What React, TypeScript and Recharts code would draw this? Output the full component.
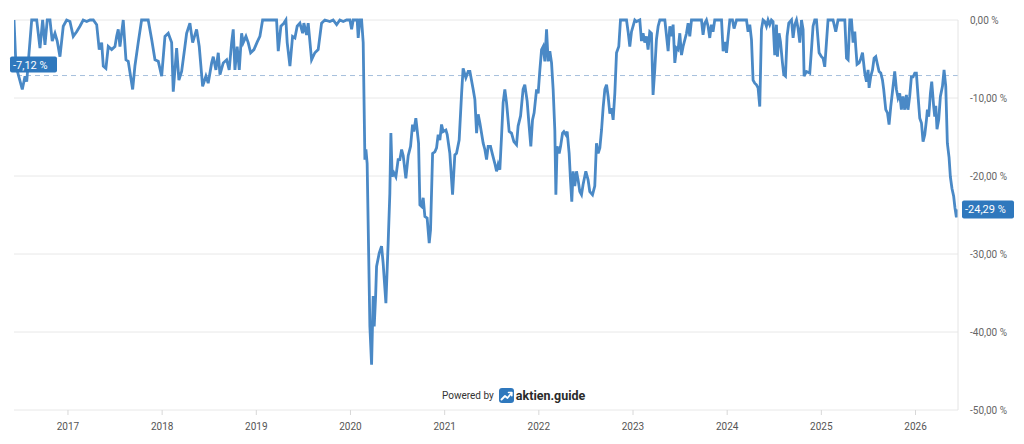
import React from 'react';
import { LineChart, Line, XAxis, YAxis, CartesianGrid, ReferenceLine } from 'recharts';

// [decimal year, drawdown %]
const d2016: [number, number][] = [[2016.427,0],[2016.448,-5.9],[2016.515,-8.9],[2016.544,-7.2],[2016.562,-7.9],[2016.615,0],[2016.668,0],[2016.703,-3.6],[2016.731,0],[2016.756,-3.2],[2016.780,0],[2016.809,0],[2016.833,-2.7],[2016.862,-1.7],[2016.886,-2.7],[2016.915,-4.7],[2016.950,-0.8],[2016.986,0]];
const d2017: [number, number][] = [[2017.021,-0.2],[2017.056,-2.1],[2017.092,-1.5],[2017.127,-0.8],[2017.162,0],[2017.199,-0.2],[2017.234,0],[2017.269,0],[2017.305,-0.6],[2017.332,-3.8],[2017.358,-2.9],[2017.375,-5.9],[2017.403,-6.2],[2017.428,-3.4],[2017.464,-3.8],[2017.499,-3.4],[2017.517,-2.1],[2017.534,-1.2],[2017.552,-3.4],[2017.587,0],[2017.616,-5.1],[2017.640,-5.3],[2017.687,-8.9],[2017.711,-5.9],[2017.746,-2.9],[2017.782,0],[2017.852,0],[2017.889,-2.5],[2017.924,-5.1],[2017.959,-5.3],[2017.995,-7.2]];
const d2018: [number, number][] = [[2018.030,-2.1],[2018.065,-1.7],[2018.101,-2.9],[2018.118,-9.2],[2018.154,-3.6],[2018.178,-7.7],[2018.207,-6.6],[2018.242,-3.4],[2018.260,-1.7],[2018.295,-0.4],[2018.324,-2.9],[2018.366,-1.2],[2018.394,-3.4],[2018.430,-8.5],[2018.465,-7.2],[2018.489,-8.1],[2018.526,-5.5],[2018.543,-4.7],[2018.571,-6.4],[2018.596,-4.2],[2018.614,-7.0],[2018.649,-5.5],[2018.685,-5.1],[2018.712,-6.4],[2018.738,-2.9],[2018.755,-1.2],[2018.773,-6.4],[2018.797,-3.4],[2018.819,-6.4],[2018.844,-1.7],[2018.861,-2.9],[2018.890,-2.1],[2018.914,-2.9],[2018.940,-4.2],[2018.975,-3.8]];
const d2019: [number, number][] = [[2019.010,-2.8],[2019.038,-2.1],[2019.067,0],[2019.215,0],[2019.233,-4.0],[2019.261,-0.8],[2019.293,-0.4],[2019.314,0],[2019.328,-2.9],[2019.357,-5.9],[2019.385,-2.1],[2019.410,-2.3],[2019.434,-0.8],[2019.463,-0.4],[2019.492,-1.7],[2019.505,-0.4],[2019.534,-1.9],[2019.551,-0.4],[2019.587,-5.1],[2019.622,-4.2],[2019.657,-3.8],[2019.693,-0.4],[2019.728,0],[2019.781,-0.2],[2019.816,0],[2019.853,-0.6],[2019.887,0],[2019.923,-0.2],[2019.959,0],[2019.994,0]];
const d2020: [number, number][] = [[2020.012,-1.2],[2020.029,0],[2020.071,0],[2020.082,-2.3],[2020.100,0],[2020.118,0],[2020.135,-2.9],[2020.153,-17.9],[2020.164,-16.6],[2020.177,-18.4],[2020.206,-39.3],[2020.224,-44.2],[2020.241,-35.4],[2020.252,-39.3],[2020.267,-35.4],[2020.277,-31.6],[2020.305,-29.9],[2020.330,-29.0],[2020.347,-31.2],[2020.376,-36.3],[2020.400,-28.6],[2020.418,-22.2],[2020.429,-14.5],[2020.443,-20.1],[2020.461,-19.6],[2020.482,-20.1],[2020.506,-17.9],[2020.524,-17.9],[2020.543,-16.6],[2020.560,-17.4],[2020.588,-20.3],[2020.613,-17.4],[2020.638,-16.2],[2020.659,-13.4],[2020.673,-14.3],[2020.694,-12.6],[2020.708,-14.1],[2020.723,-15.8],[2020.737,-23.7],[2020.755,-23.9],[2020.772,-22.8],[2020.790,-25.2],[2020.814,-25.4],[2020.836,-28.6],[2020.850,-26.9],[2020.872,-17.1],[2020.896,-16.9],[2020.914,-16.4],[2020.931,-14.7],[2020.949,-15.4],[2020.967,-13.4],[2020.984,-14.3]];
const d2021: [number, number][] = [[2021.013,-14.1],[2021.027,-14.7],[2021.055,-17.1],[2021.084,-22.4],[2021.108,-17.3],[2021.126,-17.1],[2021.154,-15.4],[2021.180,-9.4],[2021.196,-6.2],[2021.225,-7.4],[2021.250,-6.6],[2021.268,-6.6],[2021.303,-8.9],[2021.321,-10.2],[2021.339,-14.5],[2021.356,-12.1],[2021.374,-13.2],[2021.409,-15.8],[2021.427,-16.6],[2021.445,-17.9],[2021.462,-16.2],[2021.487,-16.2],[2021.509,-17.3],[2021.533,-18.4],[2021.551,-19.4],[2021.568,-18.5],[2021.586,-19.2],[2021.604,-14.9],[2021.621,-10.6],[2021.639,-8.9],[2021.657,-10.6],[2021.685,-14.3],[2021.710,-14.5],[2021.735,-15.6],[2021.763,-16.0],[2021.780,-13.6],[2021.806,-12.3],[2021.833,-8.9],[2021.851,-8.3],[2021.876,-10.4],[2021.897,-13.6],[2021.915,-16.2],[2021.933,-12.8],[2021.950,-11.9],[2021.976,-8.9],[2021.993,-9.4]];
const d2022: [number, number][] = [[2022.011,-6.4],[2022.029,-3.8],[2022.046,-3.4],[2022.064,-5.3],[2022.082,-1.2],[2022.099,-5.3],[2022.117,-4.0],[2022.135,-5.5],[2022.152,-8.9],[2022.170,-14.2],[2022.181,-22.4],[2022.194,-16.2],[2022.216,-17.1],[2022.231,-16.2],[2022.252,-14.5],[2022.266,-14.3],[2022.287,-14.7],[2022.301,-14.3],[2022.322,-17.1],[2022.337,-20.7],[2022.350,-23.3],[2022.364,-19.4],[2022.382,-21.3],[2022.400,-19.4],[2022.417,-20.5],[2022.435,-22.0],[2022.453,-22.4],[2022.470,-21.1],[2022.499,-19.4],[2022.523,-20.5],[2022.541,-22.0],[2022.570,-22.4],[2022.594,-21.3],[2022.612,-15.8],[2022.630,-17.1],[2022.648,-16.4],[2022.666,-14.1],[2022.683,-11.2],[2022.701,-8.9],[2022.719,-8.3],[2022.736,-9.8],[2022.754,-12.0],[2022.772,-11.3],[2022.789,-12.8],[2022.807,-9.4],[2022.825,-4.2],[2022.849,-3.4],[2022.867,0],[2022.931,0],[2022.948,-1.5],[2022.966,-3.4],[2022.984,-1.5]];
const d2023: [number, number][] = [[2023.019,0],[2023.037,-0.2],[2023.072,0],[2023.090,-2.7],[2023.107,-1.7],[2023.125,-2.9],[2023.143,-2.1],[2023.160,-3.8],[2023.178,-1.5],[2023.196,-1.7],[2023.213,-9.6],[2023.231,-6.4],[2023.249,-2.5],[2023.267,-0.8],[2023.285,0],[2023.338,0],[2023.373,-4.0],[2023.391,-0.8],[2023.409,-2.1],[2023.426,-0.6],[2023.444,-5.5],[2023.462,-3.6],[2023.479,-3.8],[2023.497,-1.7],[2023.515,-4.5],[2023.532,-3.4],[2023.568,-1.7],[2023.585,-0.4],[2023.603,-2.1],[2023.621,0],[2023.727,0],[2023.744,-1.9],[2023.762,-0.4],[2023.780,0],[2023.797,-0.8],[2023.815,-2.3],[2023.833,-0.6],[2023.850,-1.5],[2023.868,0],[2023.940,0],[2023.957,-4.0],[2023.975,-2.8],[2023.993,-4.2]];
const d2024: [number, number][] = [[2024.010,-2.1],[2024.028,0],[2024.056,0],[2024.073,-1.1],[2024.099,0],[2024.205,0],[2024.222,-1.5],[2024.240,-0.6],[2024.258,-2.5],[2024.275,-7.7],[2024.293,-8.1],[2024.311,-8.3],[2024.328,-8.7],[2024.346,-11.1],[2024.364,-1.2],[2024.381,0],[2024.399,-0.2],[2024.417,-0.8],[2024.434,0],[2024.452,-0.6],[2024.470,0],[2024.487,-0.2],[2024.505,-4.5],[2024.523,-0.6],[2024.534,-4.7],[2024.551,-1.7],[2024.566,-2.8],[2024.587,-5.5],[2024.601,-7.0],[2024.619,-7.2],[2024.636,-2.1],[2024.654,-0.4],[2024.683,0],[2024.700,-2.3],[2024.718,-0.6],[2024.736,0],[2024.753,-1.1],[2024.771,-2.9],[2024.789,0],[2024.806,-1.2],[2024.817,-7.2],[2024.842,-6.6],[2024.877,-6.8],[2024.895,-3.8],[2024.912,-0.8],[2024.930,0],[2024.948,0],[2024.976,-4.2]];
const d2025: [number, number][] = [[2025.001,-4.7],[2025.018,-4.9],[2025.036,-6.0],[2025.054,-2.9],[2025.071,0],[2025.124,0],[2025.153,-1.5],[2025.177,0],[2025.249,0],[2025.267,-4.9],[2025.284,-5.1],[2025.302,0],[2025.320,0],[2025.337,-2.9],[2025.355,-1.5],[2025.365,-3.4],[2025.379,-5.7],[2025.401,-5.5],[2025.415,-5.1],[2025.437,-4.2],[2025.461,-6.8],[2025.479,-7.9],[2025.496,-6.4],[2025.507,-8.7],[2025.525,-7.2],[2025.543,-6.4],[2025.560,-4.9],[2025.578,-4.7],[2025.596,-5.7],[2025.613,-6.6],[2025.631,-6.8],[2025.649,-7.7],[2025.662,-8.9],[2025.684,-11.5],[2025.702,-11.9],[2025.719,-13.4],[2025.737,-11.1],[2025.755,-9.2],[2025.779,-6.6],[2025.797,-8.9],[2025.814,-10.0],[2025.832,-9.4],[2025.850,-11.5],[2025.867,-9.8],[2025.885,-11.5],[2025.903,-9.6],[2025.920,-11.5],[2025.938,-9.8],[2025.956,-7.3],[2025.974,-7.3],[2025.992,-6.8]];
const d2026: [number, number][] = [[2026.009,-6.8],[2026.027,-9.8],[2026.045,-12.6],[2026.063,-13.2],[2026.080,-15.6],[2026.098,-14.7],[2026.116,-12.8],[2026.126,-11.5],[2026.140,-12.4],[2026.158,-9.4],[2026.172,-7.9],[2026.193,-11.1],[2026.204,-12.4],[2026.215,-11.0],[2026.228,-14.0],[2026.246,-12.8],[2026.264,-9.8],[2026.286,-8.5],[2026.303,-6.4],[2026.321,-8.5],[2026.338,-15.8],[2026.356,-17.6],[2026.370,-20.1],[2026.387,-21.6],[2026.405,-22.6],[2026.419,-24.1],[2026.434,-25.3],[2026.451,-24.29]];

const yearTicks = [2017, 2018, 2019, 2020, 2021, 2022, 2023, 2024, 2025, 2026];
const valueTicks = [0, -10, -20, -30, -40, -50];
const xDomain: [number, number] = [2016.427, 2026.451];
const firstRefValue = -7.12;
const lastValue = -24.29;

const data = [d2016, d2017, d2018, d2019, d2020, d2021, d2022, d2023, d2024, d2025, d2026]
  .flat()
  .map(([t, v]) => ({ t, v }));

const FONT = 'Roboto, "Noto Sans", Arial, sans-serif';
const BLUE = '#2f78bd';
const LINE = '#4a89c6';

const fmtPct = (v: number) => v.toFixed(2).replace('.', ',') + ' %';

const LeftLabel = (props: any) => {
  const vb = props.viewBox || {};
  const x = vb.x ?? 0;
  const y = vb.y ?? 0;
  return (
    <g>
      <rect x={x - 4} y={y - 19} width={47} height={16} rx={2} fill={BLUE} />
      <text x={x - 1} y={y - 7} fill="#fff" fontSize={11} fontFamily={FONT}>
        {fmtPct(firstRefValue)}
      </text>
    </g>
  );
};

const RightLabel = (props: any) => {
  const vb = props.viewBox || {};
  const right = (vb.x ?? 0) + (vb.width ?? 0);
  const y = vb.y ?? 0;
  return (
    <g>
      <rect x={right + 4} y={y - 9} width={52} height={18} rx={2} fill={BLUE} />
      <text x={right + 7} y={y + 4} fill="#fff" fontSize={11} fontFamily={FONT}>
        {fmtPct(lastValue)}
      </text>
    </g>
  );
};

const Logo = () => (
  <svg width={15} height={15} viewBox="0 0 15 15" style={{ display: 'block' }}>
    <rect x={0} y={0} width={15} height={15} rx={3} fill={BLUE} />
    <polyline points="2.5,11.5 6,8 8.5,10 12.5,5" fill="none" stroke="#fff" strokeWidth={1.8} strokeLinejoin="round" strokeLinecap="round" />
    <polyline points="9.5,4.5 12.8,4.5 12.8,7.8" fill="none" stroke="#fff" strokeWidth={1.6} strokeLinecap="round" strokeLinejoin="round" />
  </svg>
);

export default function App() {
  return (
    <div style={{ position: 'absolute', left: 0, top: 0, width: 1024, height: 444, background: '#fff', fontFamily: FONT }}>
      <LineChart width={1024} height={444} data={data} margin={{ top: 20, right: 0, left: 14, bottom: 0 }}>
        <CartesianGrid vertical={false} stroke="#e8e8e8" />
        <XAxis
          dataKey="t"
          type="number"
          domain={xDomain}
          ticks={yearTicks}
          allowDataOverflow
          height={34}
          axisLine={false}
          tickLine={{ stroke: '#d8d8d8' }}
          tickSize={5}
          tickMargin={8}
          tick={{ fill: '#555', fontSize: 10, fontFamily: FONT }}
          tickFormatter={(v: number) => String(Math.round(v))}
        />
        <YAxis
          orientation="right"
          domain={[-50, 0]}
          ticks={valueTicks}
          width={66}
          axisLine={{ stroke: '#e4e4e4' }}
          tickLine={false}
          tickMargin={6}
          tick={{ fill: '#666', fontSize: 10, fontFamily: FONT }}
          tickFormatter={fmtPct}
        />
        <ReferenceLine y={firstRefValue} stroke="#a6bfdc" strokeDasharray="5 4" strokeWidth={1} />
        <Line
          type="linear"
          dataKey="v"
          stroke={LINE}
          strokeWidth={2.8}
          dot={false}
          activeDot={false}
          isAnimationActive={false}
        />
        <ReferenceLine y={firstRefValue} stroke="none" strokeOpacity={0} label={LeftLabel} />
        <ReferenceLine y={lastValue} stroke="none" strokeOpacity={0} label={RightLabel} />
      </LineChart>
      <div
        style={{
          position: 'absolute',
          left: 442,
          top: 388,
          display: 'flex',
          alignItems: 'center',
          height: 15,
          whiteSpace: 'nowrap',
        }}
      >
        <span style={{ fontSize: 10, color: '#333', marginRight: 5 }}>Powered by</span>
        <Logo />
        <span style={{ fontSize: 12.5, fontWeight: 700, color: '#2a2a2a', marginLeft: 2 }}>aktien.guide</span>
      </div>
    </div>
  );
}
